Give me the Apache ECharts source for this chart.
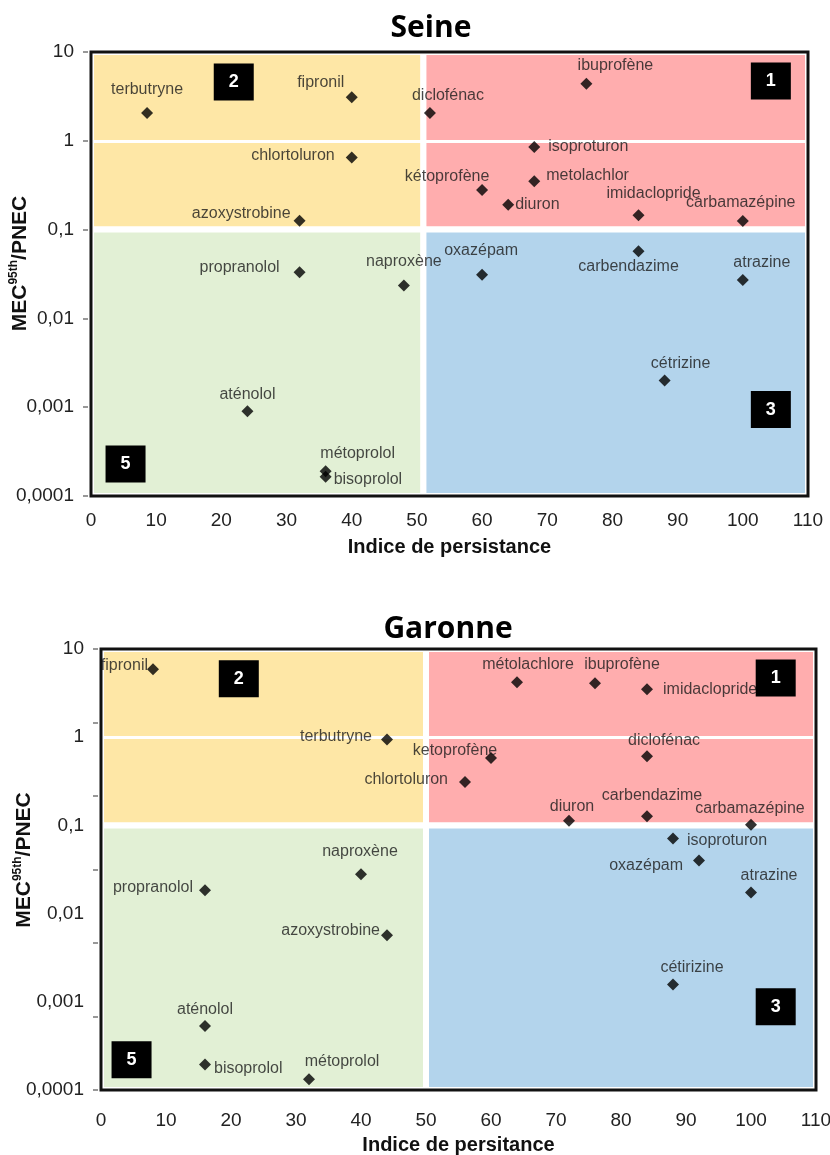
<!DOCTYPE html>
<html>
<head>
<meta charset="utf-8">
<script src="https://cdn.jsdelivr.net/npm/echarts@6/dist/echarts.min.js"></script>
<style>
  html, body { margin: 0; padding: 0; background: #fff; }
  #chart { width: 830px; height: 1155px; }
</style>
</head>
<body>
<div id="chart"></div>
<script>
// --- data: Seine ---
const seineNames = ['terbutryne', 'fipronil', 'chlortoluron', 'azoxystrobine', 'ibuprofène', 'diclofénac',
  'isoproturon', 'metolachlor', 'kétoprofène', 'diuron', 'imidaclopride', 'carbamazépine', 'carbendazime',
  'oxazépam', 'atrazine', 'cétrizine', 'naproxène', 'propranolol', 'aténolol', 'métoprolol', 'bisoprolol'];
const seineX = [8.6, 40, 40, 32, 76, 52, 68, 68, 60, 64, 84, 100, 84, 60, 100, 88, 48, 32, 24, 36, 36];
const seineY = [2.05, 3.1, 0.65, 0.126, 4.4, 2.06, 0.85, 0.35, 0.28, 0.19, 0.145, 0.125, 0.057,
  0.031, 0.027, 0.002, 0.0234, 0.033, 0.0009, 0.00019, 0.000165];
// label placement relative to each diamond: [align, dx, dy]
const seineLabelPlace = [['center', 0, -24], ['center', -31, -15], ['right', -17, -2], ['right', -9, -7],
  ['center', 29, -18], ['center', 18, -17], ['left', 14, 0], ['left', 12, -6], ['center', -35, -13],
  ['left', 7, 0], ['center', 15, -22], ['center', -2, -18], ['center', -10, 15], ['center', -1, -24],
  ['center', 19, -18], ['center', 16, -17], ['center', 0, -24], ['right', -20, -5], ['center', 0, -17],
  ['center', 32, -18], ['left', 8, 3]];

// --- data: Garonne ---
const garonneNames = ['fipronil', 'terbutryne', 'naproxène', 'métolachlore', 'ibuprofène', 'imidaclopride',
  'ketoprofène', 'chlortoluron', 'diclofénac', 'diuron', 'carbendazime', 'carbamazépine', 'isoproturon',
  'oxazépam', 'atrazine', 'cétirizine', 'propranolol', 'azoxystrobine', 'aténolol', 'bisoprolol', 'métoprolol'];
const garonneX = [8, 44, 40, 64, 76, 84, 60, 56, 84, 72, 84, 100, 88, 92, 100, 88, 16, 44, 16, 16, 32];
const garonneY = [5.9, 0.94, 0.028, 4.2, 4.1, 3.5, 0.58, 0.31, 0.61, 0.113, 0.127, 0.102, 0.071,
  0.040, 0.0173, 0.00157, 0.0184, 0.0057, 0.00053, 0.000195, 0.000132];
const garonneLabelPlace = [['right', -5, -4], ['right', -15, -3], ['center', -1, -23], ['center', 11, -18],
  ['center', 27, -19], ['left', 16, 0], ['center', -36, -7], ['right', -17, -2], ['center', 17, -16],
  ['center', 3, -14], ['center', 5, -21], ['center', -1, -16], ['left', 14, 2], ['right', -16, 5],
  ['center', 18, -17], ['center', 19, -17], ['right', -12, -3], ['right', -7, -5], ['center', 0, -17],
  ['left', 9, 4], ['center', 33, -18]];

// --- axes / zones ---
const xTicks = [0, 10, 20, 30, 40, 50, 60, 70, 80, 90, 100, 110];
const yTickLabels = ['0,0001', '0,001', '0,01', '0,1', '1', '10'];
const ySplit = 0.1;
const seineSplitX = 51;
const garonneSplitX = 50;
const boxLabels = ['1', '2', '3', '5'];
const seineBoxX = [104.3, 21.9, 104.3, 5.3];
const seineBoxY = [4.7, 4.6, 0.00094, 0.00023];
const garonneBoxX = [103.8, 21.2, 103.8, 4.7];
const garonneBoxY = [4.7, 4.6, 0.00088, 0.00022];

const FONT = "'Liberation Sans', Arial, sans-serif";
const zoneColors = { yellow: '#FEE7A6', red: '#FFADAE', green: '#E2F0D5', blue: '#B3D4EC' };

function buildSeries(idx, names, xs, ys, place, splitX, boxX, boxY) {
  const data = names.map((n, i) => ({
    name: n,
    value: [xs[i], ys[i]],
    label: { align: place[i][0], offset: [place[i][1], place[i][2]] }
  }));
  return {
    type: 'scatter',
    xAxisIndex: idx,
    yAxisIndex: idx,
    symbol: 'diamond',
    symbolSize: 12,
    z: 2,
    itemStyle: { color: '#000' },
    label: {
      show: true, position: 'inside', formatter: '{b}', verticalAlign: 'middle',
      color: '#1a1a1a', fontSize: 16, fontFamily: FONT
    },
    data: data,
    markArea: {
      z: 1,
      silent: true,
      label: { show: false },
      itemStyle: { borderColor: '#fff', borderWidth: 6 },
      data: [
        [{ coord: [0, ySplit], itemStyle: { color: zoneColors.yellow } }, { coord: [splitX, 10] }],
        [{ coord: [splitX, ySplit], itemStyle: { color: zoneColors.red } }, { coord: [110, 10] }],
        [{ coord: [0, 0.0001], itemStyle: { color: zoneColors.green } }, { coord: [splitX, ySplit] }],
        [{ coord: [splitX, 0.0001], itemStyle: { color: zoneColors.blue } }, { coord: [110, ySplit] }]
      ]
    },
    markLine: {
      z: 1.5,
      silent: true,
      symbol: 'none',
      label: { show: false },
      lineStyle: { color: '#fff', width: 3, type: 'solid' },
      data: [{ yAxis: 1 }]
    },
    markPoint: {
      z: 2.5,
      silent: true,
      symbol: 'rect',
      symbolSize: [40, 37],
      itemStyle: { color: '#000' },
      label: { show: true, formatter: '{b}', color: '#fff', fontSize: 18, fontWeight: 'bold', fontFamily: FONT },
      data: boxLabels.map((b, i) => ({ name: b, coord: [boxX[i], boxY[i]] }))
    }
  };
}

function xAxisOf(idx, name, margin, gap) {
  return {
    type: 'value', gridIndex: idx, min: 0, max: 110, interval: 10,
    axisLine: { show: false }, axisTick: { show: false }, splitLine: { show: false },
    axisLabel: { fontSize: 19, color: '#222', fontFamily: FONT, margin: margin,
      formatter: v => (xTicks.indexOf(v) >= 0 ? String(v) : '') },
    name: name, nameLocation: 'middle', nameGap: gap, nameMoveOverlap: false,
    nameTextStyle: { fontSize: 20, fontWeight: 'bold', color: '#111', fontFamily: FONT }
  };
}

function yAxisOf(idx, gap, shift, showTicks) {
  return {
    type: 'log', logBase: 10, gridIndex: idx, position: 'left', min: 0.0001, max: 10,
    axisLine: { show: false },
    axisTick: { show: showTicks, length: 8, lineStyle: { color: '#777', width: 1.5 } },
    splitLine: { show: false },
    axisLabel: { fontSize: 19, color: '#222', fontFamily: FONT, margin: 17,
      formatter: v => yTickLabels[Math.round(Math.log10(v)) + 4] || '' },
    name: '{g|}{b|MEC}{s|95th}{b|/PNEC}', nameLocation: 'middle', nameGap: gap, nameRotate: 90,
    nameMoveOverlap: false,
    nameTextStyle: {
      rich: {
        g: { width: shift },
        b: { fontSize: 21, fontWeight: 'bold', color: '#111', fontFamily: FONT, lineHeight: 25 },
        s: { fontSize: 12, fontWeight: 'bold', color: '#111', fontFamily: FONT, verticalAlign: 'top', lineHeight: 25 }
      }
    }
  };
}

// Garonne panel: tick marks are spaced independently from its labels
const garonneTickAxis = {
  type: 'value', gridIndex: 1, position: 'left', offset: 0, min: 0, max: 6, interval: 1,
  axisLine: { show: false }, axisLabel: { show: false }, splitLine: { show: false },
  axisTick: { show: true, length: 8, lineStyle: { color: '#777', width: 1.5 } }
};

const gridBase = { show: true, z: 3, containLabel: false, outerBoundsMode: 'none',
  backgroundColor: 'transparent', borderColor: '#111', borderWidth: 3 };

const chart = echarts.init(document.getElementById('chart'), null, { renderer: 'canvas' });
chart.setOption({
  animation: false,
  backgroundColor: '#fff',
  graphic: [
    { type: 'text', x: 431, y: 28, style: { text: 'Seine', align: 'center', verticalAlign: 'middle',
      fontSize: 30, fontWeight: 'bold', fontFamily: "'Open Sans', sans-serif", fill: '#000' } },
    { type: 'text', x: 448, y: 629, style: { text: 'Garonne', align: 'center', verticalAlign: 'middle',
      fontSize: 30, fontWeight: 'bold', fontFamily: "'Open Sans', sans-serif", fill: '#000' } }
  ],
  grid: [
    Object.assign({ left: 91, top: 52, width: 717, height: 444 }, gridBase),
    Object.assign({ left: 101, top: 649, width: 715, height: 441 }, gridBase)
  ],
  xAxis: [xAxisOf(0, 'Indice de persistance', 15, 41), xAxisOf(1, 'Indice de persitance', 21, 45)],
  yAxis: [yAxisOf(0, 58, 21, true), yAxisOf(1, 64, 19, false), garonneTickAxis],
  series: [
    buildSeries(0, seineNames, seineX, seineY, seineLabelPlace, seineSplitX, seineBoxX, seineBoxY),
    buildSeries(1, garonneNames, garonneX, garonneY, garonneLabelPlace, garonneSplitX, garonneBoxX, garonneBoxY)
  ]
});
</script>
</body>
</html>
